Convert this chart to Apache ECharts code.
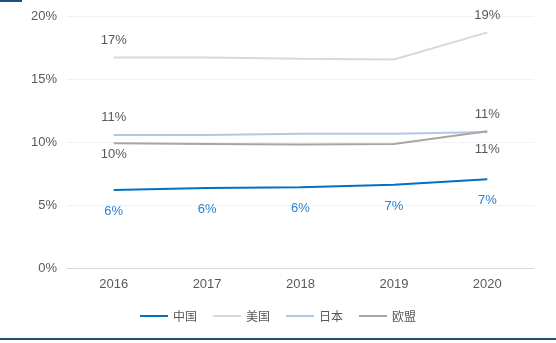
<!DOCTYPE html>
<html><head><meta charset="utf-8">
<script src="https://cdn.jsdelivr.net/npm/echarts@6/dist/echarts.min.js"></script>
<style>html,body{margin:0;padding:0;background:#fff}#c{width:556px;height:343px}</style>
</head><body><div id="c"></div>
<script>
var categories = ['2016','2017','2018','2019','2020'];
var seriesNames = ['中国','美国','日本','欧盟'];
var china = [6.2, 6.35, 6.4, 6.6, 7.05];
var usa = [16.7, 16.7, 16.6, 16.55, 18.7];
var japan = [10.55, 10.55, 10.65, 10.65, 10.8];
var eu = [9.9, 9.85, 9.8, 9.85, 10.85];
var yTicks = [0, 5, 10, 15, 20];

var chart = echarts.init(document.getElementById('c'));
function pct(v){ return Math.round(v) + '%'; }
function build(vals, showIdx, pos, dist, offs){
  return vals.map(function(v,i){
    var item = {value: v};
    var k = showIdx.indexOf(i);
    if (k >= 0) {
      item.label = {show: true, position: pos[k] || pos[0], distance: dist[k] !== undefined ? dist[k] : dist[0]};
      if (offs && offs[k]) item.label.offset = offs[k];
    } else {
      item.label = {show: false};
    }
    return item;
  });
}
var labelBase = {fontFamily: 'Liberation Sans, Arial, sans-serif', fontSize: 13, color: '#595959', formatter: function(p){return pct(p.value);}};
function lineSeries(name, color, data, label){
  return {name: name, type: 'line', symbol: 'circle', symbolSize: 0, showSymbol: true,
    lineStyle: {color: color, width: 2}, itemStyle: {color: color},
    label: label, labelLayout: {hideOverlap: false}, data: data};
}
chart.setOption({
  animation: false,
  grid: {left: 67, right: 22, top: 16, bottom: 75},
  legend: {
    bottom: 16, left: 'center', icon: 'rect',
    itemWidth: 28, itemHeight: 2, itemGap: 16,
    textStyle: {fontFamily: 'Noto Sans CJK SC', fontSize: 12, color: '#595959'},
    data: seriesNames
  },
  xAxis: {
    type: 'category', data: categories, boundaryGap: true,
    axisLine: {lineStyle: {color: '#d9d9d9', width: 1}},
    axisTick: {show: false},
    axisLabel: {color: '#595959', fontSize: 13, fontFamily: 'Liberation Sans, Arial, sans-serif', margin: 10}
  },
  yAxis: {
    type: 'value', min: yTicks[0], max: yTicks[yTicks.length-1], interval: 5,
    axisLine: {show: false}, axisTick: {show: false},
    axisLabel: {color: '#595959', fontSize: 13, fontFamily: 'Liberation Sans, Arial, sans-serif', margin: 10, formatter: '{value}%'},
    splitLine: {lineStyle: {color: '#f2f2f2', width: 1}}
  },
  series: [
    lineSeries(seriesNames[0], '#0070c0', build(china, [0,1,2,3,4], ['bottom'], [15]), Object.assign({}, labelBase, {color: '#2a82cf'})),
    lineSeries(seriesNames[1], '#d9d9d9', build(usa, [0,4], ['top'], [11, 10]), labelBase),
    lineSeries(seriesNames[2], '#b4c7e7', build(japan, [0,4], ['top'], [11, 11]), labelBase),
    lineSeries(seriesNames[3], '#a6a6a6', build(eu, [0,4], ['bottom'], [5, 12], [null, [4, 0]]), labelBase)
  ],
  graphic: [
    {type: 'rect', shape: {x: 0, y: 0, width: 22, height: 2}, style: {fill: '#1f4e79'}},
    {type: 'rect', shape: {x: 0, y: 338, width: 556, height: 2}, style: {fill: '#1f4e79'}}
  ]
});
</script></body></html>
